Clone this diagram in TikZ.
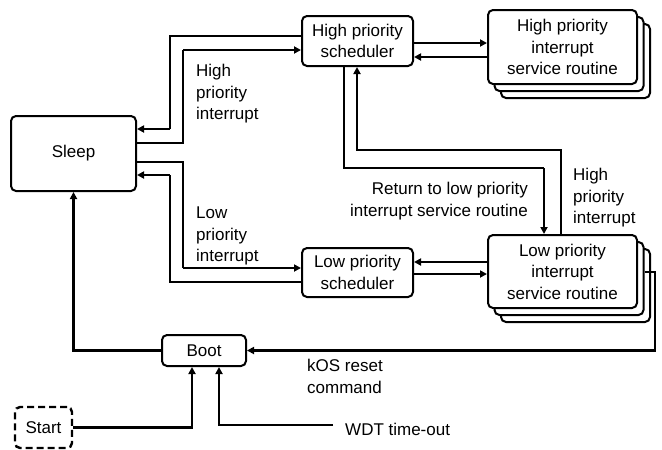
\documentclass[tikz,border=0pt]{standalone}
\usepackage{fontspec}
\setmainfont{Liberation Sans}
\usetikzlibrary{arrows.meta,calc}
\begin{document}
\begin{tikzpicture}[x=1pt,y=-1pt,
  every node/.style={font=\fontsize{17}{21.5}\selectfont},
  box/.style={draw, line width=2pt, rounded corners=5pt, fill=white, align=center, inner sep=0pt},
  thinline/.style={line width=1.5pt},
  thickline/.style={line width=2.3pt},
  arr/.style={-{Triangle[length=7pt,width=7pt]}},
  lbl/.style={align=left, anchor=north west, inner sep=0pt},
]
\useasboundingbox (0,0) rectangle (662,450);

% nodes
\node[box, minimum width=125pt, minimum height=75pt] (sleep) at (73.5,153.5) {Sleep};
\node[box, minimum width=111pt, minimum height=50pt] (hps) at (357.5,41) {High priority\\scheduler};
\node[box, minimum width=149pt, minimum height=74pt] (hpisr3) at (575.5,61) {};
\node[box, minimum width=149pt, minimum height=74pt] (hpisr2) at (569,54) {};
\node[box, minimum width=149pt, minimum height=74pt] (hpisr) at (562.5,47) {High priority\\interrupt\\service routine};
\node[box, minimum width=111pt, minimum height=49pt] (lps) at (357.5,272.5) {Low priority\\scheduler};
\node[box, minimum width=149pt, minimum height=73pt] (lpisr3) at (575.5,285.5) {};
\node[box, minimum width=149pt, minimum height=73pt] (lpisr2) at (569,278.5) {};
\node[box, minimum width=149pt, minimum height=73pt] (lpisr) at (562.5,271.5) {Low priority\\interrupt\\service routine};
\node[box, minimum width=84pt, minimum height=31pt] (boot) at (204,350.5) {Boot};
\node[box, line width=2.4pt, dash pattern=on 7pt off 4pt, minimum width=57pt, minimum height=41pt] (start) at (43.5,427.5) {Start};

% labels
\node[lbl] (lblhi) at (196,64) {High\\priority\\interrupt};
\node[lbl] (lbllo) at (196,207) {Low\\priority\\interrupt};
\node[align=right, anchor=north east, inner sep=0pt] (lblret) at (528,182) {Return to low priority\\interrupt service routine};
\node[lbl] (lblhi2) at (573,168) {High\\priority\\interrupt};
\node[lbl] (lblkos) at (307,359) {kOS reset\\command};
\node[anchor=west, inner sep=0pt] (wdt) at (345,429) {WDT time-out};
\coordinate (wdtend) at (333,425);

% Sleep <-> high priority scheduler
\draw[thinline] (hps.west |- 0,36) -| (170,129);
\draw[thickline, arr] (170,129) -- (sleep.east |- 0,129);
\draw[thinline] (sleep.east |- 0,143) -| (183,50);
\draw[thickline, arr] (183,50) -- (hps.west |- 0,50);

% Sleep <-> low priority scheduler
\draw[thinline] (sleep.east |- 0,162) -| (183,268);
\draw[thickline, arr] (183,268) -- (lps.west |- 0,268);
\draw[thinline] (lps.west |- 0,282) -| (170,175);
\draw[thickline, arr] (170,175) -- (sleep.east |- 0,175);

% schedulers <-> ISRs
\draw[thickline, arr] (hps.east |- 0,43) -- (hpisr.west |- 0,43);
\draw[thickline, arr] (hpisr.west |- 0,57) -- (hps.east |- 0,57);
\draw[thickline, arr] (lpisr.west |- 0,262) -- (lps.east |- 0,262);
\draw[thickline, arr] (lps.east |- 0,274) -- (lpisr.west |- 0,274);

% return to low priority ISR
\draw[thinline] (hps.south -| 344,0) |- (544,168);
\draw[thickline, arr] (544,168) -- (lpisr.north -| 544,0);

% high priority interrupt from low priority ISR
\draw[thickline, arr] (lpisr.north -| 561,0) |- (357,150) -- (hps.south -| 357,0);

% kOS reset command
\draw[thickline, arr] (lpisr2.east |- 0,272) -| (655,350.5) -- (boot.east);

% Boot -> Sleep
\draw[thickline, arr] (boot.west) -| (sleep.south);

% Start, WDT -> Boot
\draw[thickline, arr] (start.east) -| ([xshift=-12pt]boot.south);
\draw[thickline, arr] (wdtend) -| ([xshift=15pt]boot.south);
\end{tikzpicture}
\end{document}
